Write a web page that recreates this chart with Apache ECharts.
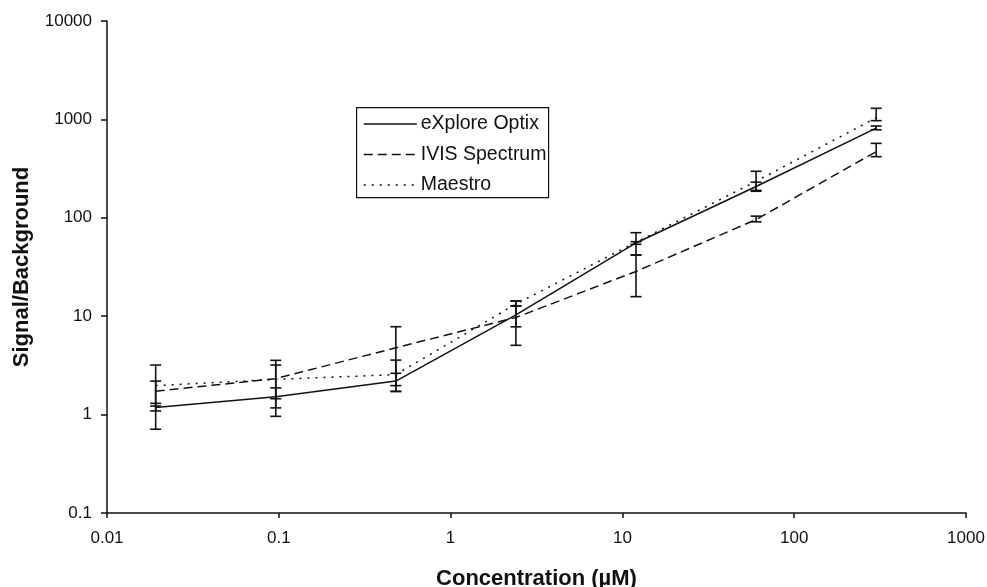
<!DOCTYPE html>
<html>
<head>
<meta charset="utf-8">
<script src="https://cdn.jsdelivr.net/npm/echarts@6/dist/echarts.min.js"></script>
<style>
html,body{margin:0;padding:0;background:#fff;}
#chart{width:987px;height:587px;}
</style>
</head>
<body>
<div id="chart"></div>
<script>
// Concentration (µM)
const concentrations = [0.0192, 0.096, 0.48, 2.4, 12, 60, 300];

// eXplore Optix
const exploreMean = [1.18, 1.52, 2.19, 10.3, 55.5, 208, 815];
const exploreLow  = [1.09, 1.17, 1.97, 7.8, 53.8, 186, 785];
const exploreHigh = [1.30, 1.87, 2.63, 12.7, 57.2, 230, 857];

// IVIS Spectrum
const ivisMean = [1.73, 2.32, 4.78, 9.7, 28.5, 96, 470];
const ivisLow  = [1.22, 1.45, 1.72, 5.06, 15.8, 91, 418];
const ivisHigh = [2.19, 3.19, 7.82, 14.3, 41.9, 104, 571];

// Maestro
const maestroMean = [1.97, 2.28, 2.55, 13.3, 56.5, 235, 1040];
const maestroLow  = [0.71, 0.96, 1.72, 12.7, 41.9, 190, 971];
const maestroHigh = [3.19, 3.56, 3.58, 14.3, 70.6, 297, 1297];

const seriesNames = ['eXplore Optix', 'IVIS Spectrum', 'Maestro'];
const yTicks = ['0.1', '1', '10', '100', '1000', '10000'];
const xTicks = ['0.01', '0.1', '1', '10', '100', '1000'];

const FONT = '"Liberation Sans", Arial, Helvetica, sans-serif';
const INK = '#111';

function pairs(xs, ys) { return xs.map((x, i) => [x, ys[i]]); }
function triples(xs, lo, hi) { return xs.map((x, i) => [x, lo[i], hi[i]]); }

function lineSeries(name, mean, dash) {
  return {
    name: name,
    type: 'line',
    data: pairs(concentrations, mean),
    symbol: 'none',
    showSymbol: false,
    lineStyle: { color: INK, width: 1.5, type: dash },
    itemStyle: { color: INK },
    z: 2,
    animation: false
  };
}

function errorSeries(name, lo, hi) {
  return {
    name: name + ' error',
    type: 'custom',
    data: triples(concentrations, lo, hi),
    encode: { x: 0, y: [1, 2] },
    renderItem: function (params, api) {
      const x = api.value(0);
      const pLo = api.coord([x, api.value(1)]);
      const pHi = api.coord([x, api.value(2)]);
      const hw = 5.5;
      const st = { stroke: INK, lineWidth: 1.6, fill: null };
      return {
        type: 'group',
        children: [
          { type: 'line', shape: { x1: pLo[0], y1: pLo[1], x2: pHi[0], y2: pHi[1] }, style: st },
          { type: 'line', shape: { x1: pLo[0] - hw, y1: pLo[1], x2: pLo[0] + hw, y2: pLo[1] }, style: st },
          { type: 'line', shape: { x1: pHi[0] - hw, y1: pHi[1], x2: pHi[0] + hw, y2: pHi[1] }, style: st }
        ]
      };
    },
    z: 3,
    animation: false
  };
}

const chart = echarts.init(document.getElementById('chart'), null, { renderer: 'canvas' });

const option = {
  backgroundColor: '#fff',
  animation: false,
  textStyle: { fontFamily: FONT },
  grid: { left: 107, right: 21, top: 21, bottom: 74, containLabel: false, outerBoundsMode: 'none' },
  xAxis: {
    type: 'log',
    logBase: 10,
    min: 0.01,
    max: 1000,
    name: 'Concentration (µM)',
    nameLocation: 'middle',
    nameGap: 55,
    nameTextStyle: { fontFamily: FONT, fontSize: 22, fontWeight: 'bold', color: INK },
    axisLine: { show: true, lineStyle: { color: INK, width: 1.5 } },
    axisTick: { show: true, inside: false, length: 5, lineStyle: { color: INK, width: 1.5 } },
    minorTick: { show: false },
    splitLine: { show: false },
    axisLabel: {
      margin: 17,
      fontFamily: FONT, fontSize: 17, color: INK,
      formatter: function (v) {
        const k = Math.round(Math.log10(v)) + 2;
        return xTicks[k] !== undefined ? xTicks[k] : '';
      }
    }
  },
  yAxis: {
    type: 'log',
    logBase: 10,
    min: 0.1,
    max: 10000,
    name: 'Signal/Background',
    nameLocation: 'middle',
    nameRotate: 90,
    nameGap: 74,
    nameTextStyle: { fontFamily: FONT, fontSize: 22, fontWeight: 'bold', color: INK },
    axisLine: { show: true, lineStyle: { color: INK, width: 1.5 } },
    axisTick: { show: true, inside: false, length: 6, lineStyle: { color: INK, width: 1.5 } },
    minorTick: { show: false },
    splitLine: { show: false },
    axisLabel: {
      margin: 15,
      fontFamily: FONT, fontSize: 17, color: INK,
      formatter: function (v) {
        const k = Math.round(Math.log10(v)) + 1;
        return yTicks[k] !== undefined ? yTicks[k] : '';
      }
    }
  },
  legend: {
    data: seriesNames,
    orient: 'vertical',
    left: 357,
    top: 109,
    padding: [5, 2, 2, 6],
    itemWidth: 53,
    itemHeight: 14,
    itemGap: 10.5,
    itemStyle: { color: 'transparent', borderWidth: 0, opacity: 0 },
    lineStyle: { width: 1.5 },
    textStyle: { fontFamily: FONT, fontSize: 19.5, color: INK, padding: [0, 0, 0, -1] },
    backgroundColor: 'transparent',
    borderWidth: 0,
    selectedMode: false
  },
  graphic: [
    {
      type: 'rect',
      left: 356, top: 107,
      shape: { width: 192, height: 90 },
      style: { fill: 'transparent', stroke: INK, lineWidth: 1.2 },
      z: 1
    }
  ],
  series: [
    lineSeries(seriesNames[0], exploreMean, 'solid'),
    lineSeries(seriesNames[1], ivisMean, [9, 5]),
    lineSeries(seriesNames[2], maestroMean, [2, 6]),
    errorSeries(seriesNames[0], exploreLow, exploreHigh),
    errorSeries(seriesNames[1], ivisLow, ivisHigh),
    errorSeries(seriesNames[2], maestroLow, maestroHigh)
  ]
};

chart.setOption(option);
</script>
</body>
</html>
